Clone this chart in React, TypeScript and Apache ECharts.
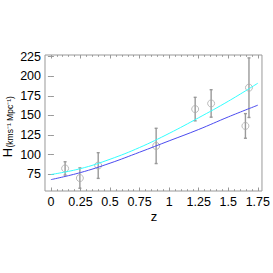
import React, { useEffect, useRef } from 'react';
import * as echarts from 'echarts';

// Model curves
const zCurve = [0, 0.25, 0.5, 0.75, 1.0, 1.25, 1.5, 1.75];
const hCyan = [74.5, 82, 94, 109, 127, 147, 168, 191];
const hBlue = [68, 77, 89, 103, 117.5, 132, 148, 163];

// Observations
const zObs = [0.12, 0.245, 0.4, 0.89, 1.22, 1.355, 1.645, 1.675];
const hObs = [82.3, 70, 86, 111, 158, 165.2, 136.5, 185.3];
const hErr = [8.5, 13, 16.4, 22.5, 15, 17.5, 15.7, 38];

// Ticks
const xTicks = [0, 0.25, 0.5, 0.75, 1, 1.25, 1.5, 1.75];
const xMinor = [0.05, 0.1, 0.15, 0.2, 0.3, 0.35, 0.4, 0.45, 0.55, 0.6, 0.65, 0.7, 0.8, 0.85, 0.9, 0.95,
  1.05, 1.1, 1.15, 1.2, 1.3, 1.35, 1.4, 1.45, 1.55, 1.6, 1.65, 1.7];
const yTicks = [75, 100, 125, 150, 175, 200, 225];

const X_MIN = -0.05;
const X_MAX = 1.785;
const Y_MIN = 53.5;
const Y_MAX = 227;

const FONT = 'Liberation Sans, Arial, sans-serif';
const TICK = '#999';

export default function App() {
  const ref = useRef<HTMLDivElement>(null);
  useEffect(() => {
    if (!ref.current) return;
    const chart = echarts.init(ref.current, null, { renderer: 'svg' });
    const xBase = (position: string, ticks: number[], len: number, labels: boolean) => ({
      type: 'value',
      min: X_MIN,
      max: X_MAX,
      position,
      axisLine: { show: false },
      splitLine: { show: false },
      axisTick: { show: true, inside: true, length: len, customValues: ticks, lineStyle: { color: TICK, width: 1 } },
      axisLabel: labels
        ? { show: true, customValues: ticks, margin: 4, color: '#000', fontSize: 12.5, fontFamily: FONT }
        : { show: false },
    });
    const yBase = (position: string, labels: boolean) => ({
      type: 'value',
      min: Y_MIN,
      max: Y_MAX,
      position,
      axisLine: { show: false },
      splitLine: { show: false },
      axisTick: { show: true, inside: true, length: 3, customValues: yTicks, lineStyle: { color: TICK, width: 1 } },
      axisLabel: labels
        ? { show: true, customValues: yTicks, margin: 4, color: '#000', fontSize: 12.5, fontFamily: FONT }
        : { show: false },
    });
    const option: any = {
      animation: false,
      backgroundColor: '#fff',
      grid: { left: 45, top: 55, width: 218, height: 136, show: true, borderColor: '#999', borderWidth: 1, backgroundColor: 'transparent' },
      xAxis: [
        xBase('bottom', xTicks, 3.5, true),
        xBase('bottom', xMinor, 1.8, false),
        xBase('top', xTicks, 3.5, false),
        xBase('top', xMinor, 1.8, false),
      ],
      yAxis: [yBase('left', true), yBase('right', false)],
      graphic: [
        { type: 'text', x: 154, y: 216, style: { text: 'z', font: `13px ${FONT}`, fill: '#000', align: 'center', verticalAlign: 'middle' } },
        { type: 'text', x: 7.2, y: 152.5, rotation: Math.PI / 2, style: { text: 'H', font: `13px ${FONT}`, fill: '#000', align: 'center', verticalAlign: 'middle' } },
        { type: 'text', x: 9.5, y: 147.5, rotation: Math.PI / 2, style: { text: '(kms\u207B\u00B9 Mpc\u207B\u00B9)', font: `8.5px ${FONT}`, fill: '#000', align: 'left', verticalAlign: 'middle' } },
      ],
      series: [
        {
          type: 'custom',
          xAxisIndex: 0,
          yAxisIndex: 0,
          data: zObs.map((z, i) => [z, hObs[i] - hErr[i], hObs[i] + hErr[i]]),
          encode: { x: 0, y: [1, 2] },
          renderItem: (params: any, api: any) => {
            const x = api.value(0);
            const lo = api.coord([x, api.value(1)]);
            const hi = api.coord([x, api.value(2)]);
            const st = { stroke: '#999', lineWidth: 1.4 };
            const cw = 1.5;
            return {
              type: 'group',
              children: [
                { type: 'line', shape: { x1: lo[0], y1: lo[1], x2: hi[0], y2: hi[1] }, style: st },
                { type: 'line', shape: { x1: lo[0] - cw, y1: lo[1], x2: lo[0] + cw, y2: lo[1] }, style: st },
                { type: 'line', shape: { x1: hi[0] - cw, y1: hi[1], x2: hi[0] + cw, y2: hi[1] }, style: st },
              ],
            };
          },
          z: 2,
        },
        {
          type: 'scatter',
          data: zObs.map((z, i) => [z, hObs[i]]),
          symbol: 'circle',
          symbolSize: 7,
          itemStyle: { color: 'rgba(0,0,0,0)', borderColor: '#aaa', borderWidth: 1 },
          z: 3,
        },
        {
          type: 'line',
          data: zCurve.map((z, i) => [z, hCyan[i]]),
          showSymbol: false,
          smooth: 0.4,
          lineStyle: { color: '#33ffff', width: 1 },
          z: 4,
        },
        {
          type: 'line',
          data: zCurve.map((z, i) => [z, hBlue[i]]),
          showSymbol: false,
          smooth: 0.4,
          lineStyle: { color: '#4b4bf0', width: 1 },
          z: 4,
        },
      ],
    };
    chart.setOption(option);
    return () => chart.dispose();
  }, []);
  return <div ref={ref} style={{ position: 'fixed', left: 0, top: 0, width: 273, height: 273 }} />;
}
